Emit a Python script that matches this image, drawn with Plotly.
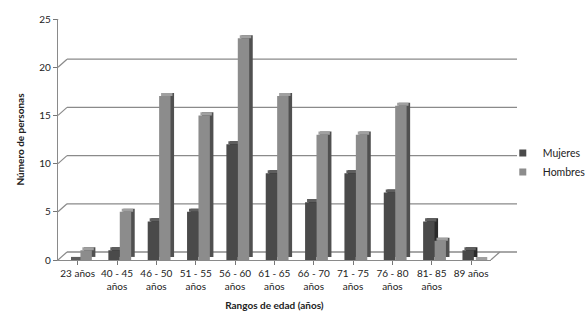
import plotly.graph_objects as go

categories = ["23 años", "40 - 45<br>años", "46 - 50<br>años", "51 - 55<br>años", "56 - 60<br>años",
              "61 - 65<br>años", "66 - 70<br>años", "71 - 75<br>años", "76 - 80<br>años",
              "81- 85<br>años", "89 años"]
mujeres = [0, 1, 4, 5, 12, 9, 6, 9, 7, 4, 1]
hombres = [1, 5, 17, 15, 23, 17, 13, 13, 16, 2, 0]
y_ticks = [0, 5, 10, 15, 20, 25]

FONT = "Lato"
x_idx = list(range(len(categories)))

W = 0.29          # bar width (category units)
DX_SIDE = 0.09    # depth shift of side face (category units)
DX_TOP = 0.05
DY = 0.32         # depth shift in value units

fig = go.Figure()

def add_series(name, vals, off, front, side, top):
    n = len(vals)
    fig.add_trace(go.Bar(x=x_idx, y=vals, base=[DY] * n, width=W, offset=off + DX_SIDE,
                         marker=dict(color=side, line=dict(width=0)), showlegend=False,
                         hoverinfo="skip"))
    fig.add_trace(go.Bar(x=x_idx, y=[DY] * n, base=vals, width=W, offset=off + DX_TOP,
                         marker=dict(color=top, line=dict(width=0)), showlegend=False,
                         hoverinfo="skip"))
    fig.add_trace(go.Bar(x=x_idx, y=vals, width=W, offset=off, name=name, showlegend=False,
                         marker=dict(color=front, line=dict(width=0))))
    # legend entry with a small square key
    fig.add_trace(go.Scatter(x=[None], y=[None], mode="markers", name=name,
                             marker=dict(symbol="square", size=7, color=front)))

add_series("Mujeres", mujeres, -0.22, "#4a4a4a", "#2a2a2a", "#5e5e5e")
add_series("Hombres", hombres, 0.07, "#8c8c8c", "#505050", "#a0a0a0")

shapes = []
# back-wall gridlines and the diagonal connectors from the front axis
for v in y_ticks:
    shapes.append(dict(type="line", xref="paper", yref="y", xsizemode="pixel", ysizemode="pixel",
                       xanchor=0, yanchor=v, x0=9, x1=459, y0=8, y1=8,
                       line=dict(color="#8a8a8a", width=1.3), layer="below"))
    shapes.append(dict(type="line", xref="paper", yref="y", xsizemode="pixel", ysizemode="pixel",
                       xanchor=0, yanchor=v, x0=0, x1=9, y0=0, y1=8,
                       line=dict(color="#8a8a8a", width=1.2), layer="below"))
# floor right edge
shapes.append(dict(type="line", xref="paper", yref="y", xsizemode="pixel", ysizemode="pixel",
                   xanchor=1, yanchor=0, x0=0, x1=9, y0=0, y1=8,
                   line=dict(color="#8a8a8a", width=1.2), layer="below"))

fig.update_layout(
    width=586, height=325,
    margin=dict(l=58, r=79, t=18, b=65),
    paper_bgcolor="white", plot_bgcolor="white",
    barmode="overlay",
    font=dict(family=FONT, size=10, color="#222222"),
    shapes=shapes,
    legend=dict(xref="container", yref="container", x=0.858, y=0.50,
                xanchor="left", yanchor="middle",
                font=dict(family=FONT, size=10.5, color="#222222"),
                itemwidth=30, tracegroupgap=0, bgcolor="rgba(0,0,0,0)"),
    xaxis=dict(range=[-0.5, len(categories) - 0.5], tickmode="array", tickvals=x_idx,
               ticktext=categories, tickson="boundaries", ticks="outside", ticklen=4,
               tickcolor="#777777", showline=True, linecolor="#8a8a8a", linewidth=1.3,
               showgrid=False, zeroline=False, tickangle=0,
               title=dict(text="<b>Rangos de edad (años)</b>", font=dict(size=10, family=FONT),
                          standoff=10)),
    yaxis=dict(range=[0, 25], tickvals=y_ticks, ticks="outside", ticklen=4, tickcolor="#777777",
               showline=True, linecolor="#8a8a8a", linewidth=1.3, showgrid=False, zeroline=False,
               title=dict(text="<b>Número de personas</b>", font=dict(size=10, family=FONT),
                          standoff=12)),
)

fig.write_html("out.html", config={"displayModeBar": False},
               post_script="document.body.style.margin='0';")
